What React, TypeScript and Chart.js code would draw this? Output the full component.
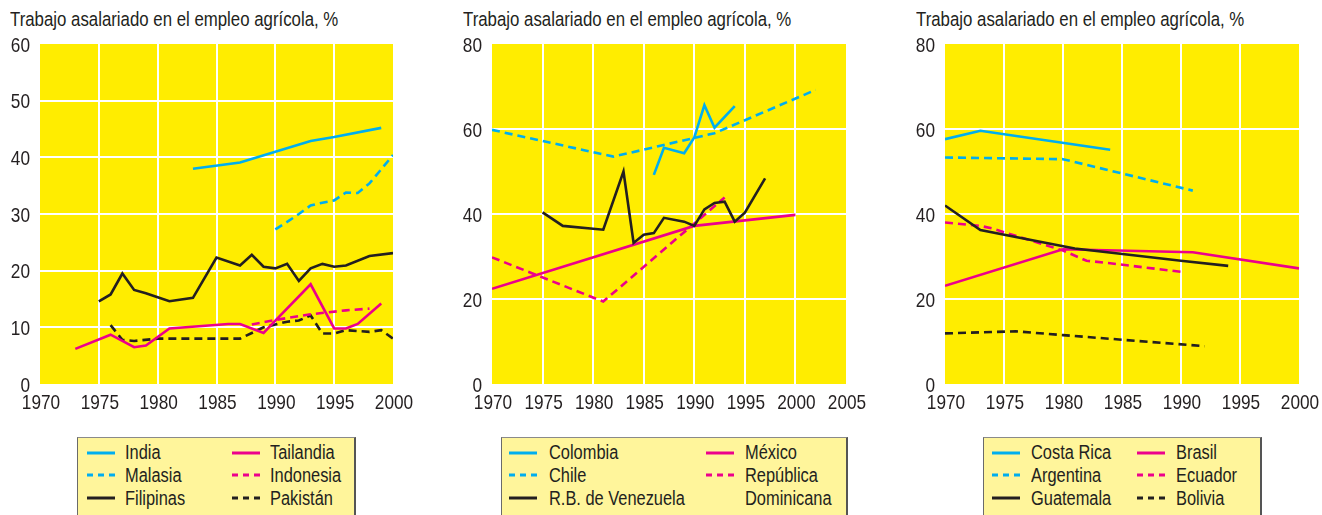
import React, { useEffect, useRef } from "react";
import { Chart, registerables } from "chart.js";

Chart.register(...registerables);

const FONT = "'Liberation Sans', Arial, Helvetica, sans-serif";
const NARROW = 0.82;
const CYAN = "#00AEEF";
const MAGENTA = "#EC008C";
const BLACK = "#231F20";
const PLOT_BG = "#FFED00";
const LEGEND_BG = "#FFF59B";
const TITLE = "Trabajo asalariado en el empleo agrícola, %";

// ---- Panel 1 (Asia) ----
const india: [number, number][] = [[1983, 38], [1987, 39.1], [1990, 41], [1993, 42.9], [1995, 43.6], [1999, 45.2]];
const malasia: [number, number][] = [[1990, 27.3], [1991, 28.6], [1992, 30], [1993, 31.5], [1994, 32], [1995, 32.4], [1996, 33.8], [1997, 33.7], [1998, 35.4], [1999, 37.9], [2000, 40.4]];
const filipinas: [number, number][] = [[1975, 14.6], [1976, 15.8], [1977, 19.5], [1978, 16.6], [1979, 16], [1980, 15.3], [1981, 14.6], [1983, 15.2], [1985, 22.3], [1987, 20.9], [1988, 22.8], [1989, 20.7], [1990, 20.4], [1991, 21.2], [1992, 18.2], [1993, 20.4], [1994, 21.2], [1995, 20.7], [1996, 20.9], [1998, 22.6], [2000, 23.1]];
const tailandia: [number, number][] = [[1973, 6.2], [1976, 8.7], [1978, 6.5], [1979, 6.8], [1981, 9.8], [1986, 10.6], [1987, 10.6], [1989, 9], [1990, 11.2], [1993, 17.6], [1995, 9.8], [1996, 9.8], [1997, 10.6], [1999, 14.2]];
const indonesia: [number, number][] = [[1988, 10.5], [1990, 11.3], [1993, 12.3], [1996, 13], [1998, 13.3]];
const pakistan: [number, number][] = [[1976, 10.4], [1977, 7.8], [1978, 7.6], [1980, 8], [1987, 8], [1989, 10], [1991, 11], [1992, 11.2], [1993, 12.1], [1994, 8.9], [1995, 8.9], [1996, 9.5], [1998, 9.2], [1999, 9.5], [2000, 8]];

// ---- Panel 2 ----
const colombia: [number, number][] = [[1986, 49.2], [1987, 55.6], [1989, 54.3], [1990, 58], [1991, 65.6], [1992, 60.3], [1994, 65.4]];
const chile: [number, number][] = [[1970, 59.8], [1982, 53.5], [1992, 59], [2002, 69.2]];
const venezuela: [number, number][] = [[1975, 40.4], [1977, 37.2], [1981, 36.3], [1983, 50], [1984, 33.2], [1985, 35.1], [1986, 35.5], [1987, 39.1], [1989, 38.2], [1990, 37.2], [1991, 41.1], [1992, 42.6], [1993, 42.9], [1994, 38.2], [1995, 40.3], [1997, 48.4]];
const mexico: [number, number][] = [[1970, 22.4], [1990, 37.2], [2000, 39.8]];
const repDominicana: [number, number][] = [[1970, 29.8], [1981, 19.4], [1993, 43.9]];

// ---- Panel 3 ----
const costaRica: [number, number][] = [[1970, 57.6], [1973, 59.6], [1984, 55.1]];
const argentina: [number, number][] = [[1970, 53.3], [1980, 52.9], [1991, 45.5]];
const guatemala: [number, number][] = [[1970, 42], [1973, 36.2], [1976, 34.6], [1981, 31.9], [1990, 29], [1994, 27.8]];
const brasil: [number, number][] = [[1970, 23.1], [1980, 31.7], [1991, 31], [2000, 27.2]];
const ecuador: [number, number][] = [[1970, 38], [1973, 37.2], [1974, 36.6], [1980, 31.4], [1982, 29], [1984, 28.4], [1990, 26.4]];
const bolivia: [number, number][] = [[1970, 11.9], [1976, 12.4], [1980, 11.5], [1992, 8.9]];

type Series = { label: string; data: [number, number][]; color: string; dashed: boolean; col: number; row: number };

const panel1Series: Series[] = [
  { label: "India", data: india, color: CYAN, dashed: false, col: 0, row: 0 },
  { label: "Malasia", data: malasia, color: CYAN, dashed: true, col: 0, row: 1 },
  { label: "Filipinas", data: filipinas, color: BLACK, dashed: false, col: 0, row: 2 },
  { label: "Tailandia", data: tailandia, color: MAGENTA, dashed: false, col: 1, row: 0 },
  { label: "Indonesia", data: indonesia, color: MAGENTA, dashed: true, col: 1, row: 1 },
  { label: "Pakistán", data: pakistan, color: BLACK, dashed: true, col: 1, row: 2 },
];
const panel2Series: Series[] = [
  { label: "Colombia", data: colombia, color: CYAN, dashed: false, col: 0, row: 0 },
  { label: "Chile", data: chile, color: CYAN, dashed: true, col: 0, row: 1 },
  { label: "R.B. de Venezuela", data: venezuela, color: BLACK, dashed: false, col: 0, row: 2 },
  { label: "México", data: mexico, color: MAGENTA, dashed: false, col: 1, row: 0 },
  { label: "República\nDominicana", data: repDominicana, color: MAGENTA, dashed: true, col: 1, row: 1 },
];
const panel3Series: Series[] = [
  { label: "Costa Rica", data: costaRica, color: CYAN, dashed: false, col: 0, row: 0 },
  { label: "Argentina", data: argentina, color: CYAN, dashed: true, col: 0, row: 1 },
  { label: "Guatemala", data: guatemala, color: BLACK, dashed: false, col: 0, row: 2 },
  { label: "Brasil", data: brasil, color: MAGENTA, dashed: false, col: 1, row: 0 },
  { label: "Ecuador", data: ecuador, color: MAGENTA, dashed: true, col: 1, row: 1 },
  { label: "Bolivia", data: bolivia, color: BLACK, dashed: true, col: 1, row: 2 },
];

const bgPlugin = {
  id: "plotBg",
  beforeDraw(chart: any) {
    const { ctx, chartArea } = chart;
    ctx.save();
    ctx.fillStyle = PLOT_BG;
    ctx.fillRect(chartArea.left, chartArea.top, chartArea.right - chartArea.left, chartArea.bottom - chartArea.top);
    ctx.restore();
  },
};

// Draws the scales' own tick labels in a condensed (horizontally scaled) face.
const narrowTickPlugin = {
  id: "narrowTicks",
  afterDraw(chart: any) {
    const { ctx, chartArea } = chart;
    const xs = chart.scales.x;
    const ys = chart.scales.y;
    ctx.save();
    ctx.fillStyle = BLACK;
    ctx.font = `21px ${FONT}`;
    ctx.textBaseline = "alphabetic";
    xs.ticks.forEach((t: any) => {
      const px = xs.getPixelForValue(t.value);
      ctx.save();
      ctx.translate(px + 1, chartArea.bottom + 24.5);
      ctx.scale(NARROW, 1);
      ctx.textAlign = "center";
      ctx.fillText(String(t.value), 0, 0);
      ctx.restore();
    });
    ys.ticks.forEach((t: any) => {
      const py = ys.getPixelForValue(t.value);
      ctx.save();
      ctx.translate(chartArea.left - 10, py + 7.5);
      ctx.scale(NARROW, 1);
      ctx.textAlign = "right";
      ctx.fillText(String(t.value), 0, 0);
      ctx.restore();
    });
    ctx.restore();
  },
};

type PanelProps = {
  left: number;
  width: number;
  yAxisWidth: number;
  padRight: number;
  yMax: number;
  yStep: number;
  xMax: number;
  series: Series[];
  titleX: number;
  legend: { left: number; width: number; line: [number, number]; text: [number, number] };
};

function Panel(p: PanelProps) {
  const ref = useRef<HTMLCanvasElement>(null);
  useEffect(() => {
    const canvas = ref.current!;
    const chart = new Chart(canvas, {
      type: "line",
      data: {
        datasets: p.series.map((s) => ({
          label: s.label,
          data: s.data.map(([x, y]) => ({ x, y })),
          borderColor: s.color,
          backgroundColor: s.color,
          borderWidth: 2.6,
          borderDash: s.dashed ? [8, 5] : [],
          pointRadius: 0,
          fill: false,
          tension: 0,
        })),
      },
      options: {
        animation: false,
        responsive: false,
        maintainAspectRatio: false,
        events: [],
        layout: { padding: { top: 44, right: p.padRight, bottom: 0, left: 0 } },
        plugins: { legend: { display: false }, tooltip: { enabled: false }, title: { display: false } },
        scales: {
          x: {
            type: "linear",
            min: 1970,
            max: p.xMax,
            afterFit(s: any) {
              s.height = 36;
            },
            ticks: { stepSize: 5, autoSkip: false, maxRotation: 0, display: false },
            grid: {
              drawTicks: false,
              lineWidth: 2,
              color: (ctx: any) =>
                ctx.tick && (ctx.tick.value === 1970 || ctx.tick.value === p.xMax) ? "rgba(0,0,0,0)" : "#ffffff",
            },
            border: { display: false },
          },
          y: {
            min: 0,
            max: p.yMax,
            afterFit(s: any) {
              s.width = p.yAxisWidth;
            },
            ticks: { stepSize: p.yStep, display: false },
            grid: {
              drawTicks: false,
              lineWidth: 2,
              color: (ctx: any) =>
                ctx.tick && (ctx.tick.value === 0 || ctx.tick.value === p.yMax) ? "rgba(0,0,0,0)" : "#ffffff",
            },
            border: { display: false },
          },
        },
      } as any,
      plugins: [bgPlugin, narrowTickPlugin],
    });
    return () => chart.destroy();
  }, []);

  const lg = p.legend;
  const rowTop = 441;
  const rowH = 23;
  const lineY = [452.7, 475.3, 498];
  const textStyle = {
    position: "absolute" as const,
    fontFamily: FONT,
    color: BLACK,
    whiteSpace: "pre" as const,
    transform: `scaleX(${NARROW})`,
    transformOrigin: "0 0",
  };
  return (
    <>
      <div style={{ ...textStyle, left: p.titleX, top: 8.5, fontSize: 20.5, lineHeight: "20px" }}>{TITLE}</div>
      <canvas
        ref={ref}
        width={p.width}
        height={420}
        style={{ position: "absolute", left: p.left, top: 0, width: p.width, height: 420 }}
      />
      <div
        style={{
          position: "absolute",
          left: lg.left,
          top: 437,
          width: lg.width,
          height: 100,
          boxSizing: "border-box",
          background: LEGEND_BG,
          borderTop: "1px solid #8a8a8a",
          borderLeft: "1px solid #6a6a6a",
          borderRight: "2px solid #555555",
        }}
      />
      {p.series.map((s, i) => (
        <React.Fragment key={i}>
          <svg width={28} height={6} style={{ position: "absolute", left: lg.line[s.col], top: lineY[s.row] - 3 }}>
            <line
              x1={0}
              y1={3}
              x2={28}
              y2={3}
              stroke={s.color}
              strokeWidth={3}
              strokeDasharray={s.dashed ? "6 5" : undefined}
            />
          </svg>
          <div
            style={{
              ...textStyle,
              left: lg.text[s.col],
              top: rowTop + rowH * s.row,
              fontSize: 20,
              lineHeight: rowH + "px",
            }}
          >
            {s.label}
          </div>
        </React.Fragment>
      ))}
    </>
  );
}

export default function App() {
  return (
    <div
      style={{
        position: "absolute",
        left: 0,
        top: 0,
        width: 1322,
        height: 515,
        overflow: "hidden",
        background: "#ffffff",
      }}
    >
      <Panel
        left={0}
        width={440}
        yAxisWidth={40}
        padRight={47}
        yMax={60}
        yStep={10}
        xMax={2000}
        series={panel1Series}
        titleX={10}
        legend={{ left: 77, width: 279, line: [87, 232], text: [125, 270] }}
      />
      <Panel
        left={450}
        width={440}
        yAxisWidth={42}
        padRight={44}
        yMax={80}
        yStep={20}
        xMax={2005}
        series={panel2Series}
        titleX={463}
        legend={{ left: 501, width: 347, line: [509, 706], text: [549, 745] }}
      />
      <Panel
        left={900}
        width={422}
        yAxisWidth={45}
        padRight={23}
        yMax={80}
        yStep={20}
        xMax={2000}
        series={panel3Series}
        titleX={916}
        legend={{ left: 983, width: 279, line: [992, 1137], text: [1031, 1176] }}
      />
    </div>
  );
}
